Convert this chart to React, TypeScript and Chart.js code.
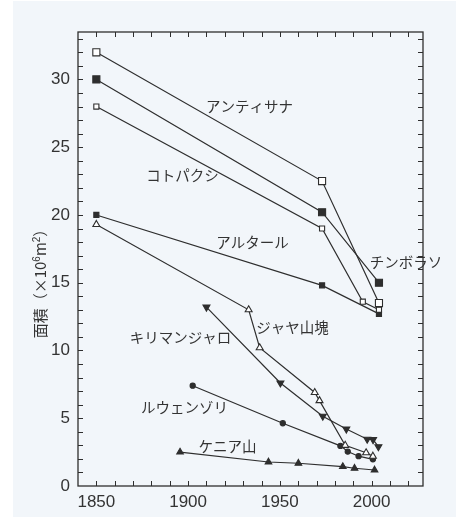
import React, { useEffect, useRef } from "react";
import { Chart, registerables } from "chart.js";

Chart.register(...registerables);

// ---- data (year, area ×10^6 m²) ----
const antisanaYears = [1850, 1973, 2004];
const antisanaArea = [32.0, 22.5, 13.5];

const chimborazoYears = [1850, 1973, 2004];
const chimborazoArea = [30.0, 20.2, 15.0];

const cotopaxiYears = [1850, 1973, 1995.2, 2004];
const cotopaxiArea = [28.0, 19.0, 13.6, 13.0];

const altarYears = [1850, 1973, 2004];
const altarArea = [20.0, 14.8, 12.7];

const jayaYears = [1850, 1933, 1939, 1969, 1971.6, 1985.6, 1997, 2000.7];
const jayaArea = [19.3, 13.0, 10.2, 6.9, 6.3, 3.0, 2.45, 2.2];

const kilimanjaroYears = [1910, 1950.3, 1973.4, 1986.2, 1997.6, 2000.8, 2003.7];
const kilimanjaroArea = [13.2, 7.6, 5.15, 4.2, 3.45, 3.42, 2.9];

const rwenzoriYears = [1902.5, 1951.6, 1983, 1987, 1992.9, 2000.7];
const rwenzoriArea = [7.4, 4.63, 2.96, 2.54, 2.2, 1.97];

const kenyaYears = [1895.6, 1943.8, 1960.1, 1984.3, 1990.7, 2001.6];
const kenyaArea = [2.5, 1.77, 1.68, 1.43, 1.31, 1.18];

// ---- annotation labels (placed in data coordinates) ----
const labelTexts = ["アンティサナ", "コトパクシ", "アルタール", "チンボラソ", "ジャヤ山塊", "キリマンジャロ", "ルウェンゾリ", "ケニア山"];
const labelYears = [1933.4, 1896.9, 1935.1, 2018.8, 1956.9, 1895.8, 1898.0, 1921.4];
const labelValues = [28.0, 22.9, 17.96, 16.5, 11.7, 10.94, 5.79, 2.9];

const xTickValues = [1850, 1900, 1950, 2000];
const yTickValues = [0, 5, 10, 15, 20, 25, 30];
// y-axis title pieces: [text, isSuperscript]
const yAxisTitleParts: [string, boolean][] = [
  ["面積（×10", false],
  ["6", true],
  ["m", false],
  ["2", true],
  ["）", false],
];

const INK = "#2e2e2e";
const TEXT = "#333333";

function pts(xs: number[], ys: number[]) {
  return xs.map((x, i) => ({ x, y: ys[i] }));
}

function series(xs: number[], ys: number[], style: string, radius: number, filled: boolean, rotation = 0) {
  return {
    data: pts(xs, ys),
    showLine: true,
    borderColor: INK,
    borderWidth: 1.2,
    pointStyle: style,
    pointRadius: radius,
    pointRotation: rotation,
    pointBorderWidth: 1.1,
    pointBorderColor: INK,
    pointBackgroundColor: filled ? INK : "#ffffff",
    fill: false,
  };
}

const framePlugin = {
  id: "frameTicks",
  afterDraw(chart: any) {
    const { ctx, chartArea } = chart;
    const { left, right, top, bottom } = chartArea;
    const xs = chart.scales.x;
    const ys = chart.scales.y;
    ctx.save();
    ctx.strokeStyle = INK;
    ctx.lineWidth = 1.3;
    ctx.strokeRect(left, top, right - left, bottom - top);
    ctx.lineWidth = 1;
    ctx.beginPath();
    for (let yr = 1850; yr <= 2020; yr += 10) {
      const px = Math.round(xs.getPixelForValue(yr)) + 0.5;
      ctx.moveTo(px, bottom);
      ctx.lineTo(px, bottom - 5);
      ctx.moveTo(px, top);
      ctx.lineTo(px, top + 5);
    }
    for (let v = 1; v <= 33; v += 1) {
      const py = Math.round(ys.getPixelForValue(v)) + 0.5;
      ctx.moveTo(left, py);
      ctx.lineTo(left + 5, py);
      ctx.moveTo(right, py);
      ctx.lineTo(right - 5, py);
    }
    ctx.stroke();
    ctx.restore();
  },
};

const MAIN_FONT = '15px "Noto Sans CJK JP", "Liberation Sans", sans-serif';
const SUP_FONT = '10px "Liberation Sans", sans-serif';

const labelPlugin = {
  id: "seriesLabels",
  afterDatasetsDraw(chart: any) {
    const { ctx } = chart;
    const xs = chart.scales.x;
    const ys = chart.scales.y;
    ctx.save();
    ctx.fillStyle = TEXT;
    ctx.font = '14.5px "Noto Sans CJK JP", "Noto Sans", sans-serif';
    ctx.textAlign = "center";
    ctx.textBaseline = "middle";
    labelTexts.forEach((t, i) => {
      ctx.fillText(t, xs.getPixelForValue(labelYears[i]), ys.getPixelForValue(labelValues[i]));
    });
    // rotated y-axis title with superscripts
    ctx.translate(46, 280);
    ctx.rotate(-Math.PI / 2);
    ctx.textAlign = "left";
    ctx.textBaseline = "alphabetic";
    let total = 0;
    const widths = yAxisTitleParts.map(([t, sup]) => {
      ctx.font = sup ? SUP_FONT : MAIN_FONT;
      const w = ctx.measureText(t).width;
      total += w;
      return w;
    });
    let cx = -total / 2;
    yAxisTitleParts.forEach(([t, sup], i) => {
      ctx.font = sup ? SUP_FONT : MAIN_FONT;
      ctx.fillText(t, cx, sup ? -6 : 0);
      cx += widths[i];
    });
    ctx.restore();
  },
};

export default function App() {
  const ref = useRef<HTMLCanvasElement | null>(null);

  useEffect(() => {
    document.body.style.margin = "0";
    if (!ref.current) return;
    const tickFont = { family: '"Liberation Sans", Arial, sans-serif', size: 17 };
    const chart = new Chart(ref.current, {
      type: "scatter",
      data: {
        datasets: [
          series(antisanaYears, antisanaArea, "rect", 5, false),
          series(chimborazoYears, chimborazoArea, "rect", 5, true),
          series(cotopaxiYears, cotopaxiArea, "rect", 3.6, false),
          series(altarYears, altarArea, "rect", 3.6, true),
          series(jayaYears, jayaArea, "triangle", 4, false),
          series(kilimanjaroYears, kilimanjaroArea, "triangle", 4, true, 180),
          series(rwenzoriYears, rwenzoriArea, "circle", 2.6, true),
          series(kenyaYears, kenyaArea, "triangle", 3.8, true),
        ] as any,
      },
      options: {
        animation: false,
        responsive: false,
        maintainAspectRatio: false,
        layout: { padding: { top: 32, right: 33, left: 0, bottom: 0 } },
        plugins: { legend: { display: false }, tooltip: { enabled: false } },
        scales: {
          x: {
            type: "linear",
            min: 1840,
            max: 2028,
            afterBuildTicks: (s: any) => {
              s.ticks = xTickValues.map((v) => ({ value: v }));
            },
            afterFit: (s: any) => {
              s.height = 31;
            },
            grid: { display: false, drawTicks: false },
            border: { display: false },
            ticks: {
              padding: 6,
              color: TEXT,
              font: tickFont,
              maxRotation: 0,
              autoSkip: false,
              callback: (v: any) => String(v),
            },
          },
          y: {
            type: "linear",
            min: 0,
            max: 33.5,
            afterBuildTicks: (s: any) => {
              s.ticks = yTickValues.map((v) => ({ value: v }));
            },
            afterFit: (s: any) => {
              s.width = 78;
            },
            grid: { display: false, drawTicks: false },
            border: { display: false },
            ticks: {
              padding: 8,
              color: TEXT,
              font: tickFont,
              autoSkip: false,
              callback: (v: any) => String(v),
            },
          },
        },
      } as any,
      plugins: [framePlugin, labelPlugin],
    });
    return () => chart.destroy();
  }, []);

  return (
    <div style={{ position: "relative", width: 456, height: 517, background: "#ffffff", overflow: "hidden" }}>
      <div style={{ position: "absolute", left: 13, top: 1, width: 443, height: 516, background: "#f2f6fa" }} />
      <canvas ref={ref} width={456} height={517} style={{ position: "absolute", left: 0, top: 0, width: 456, height: 517 }} />
    </div>
  );
}
